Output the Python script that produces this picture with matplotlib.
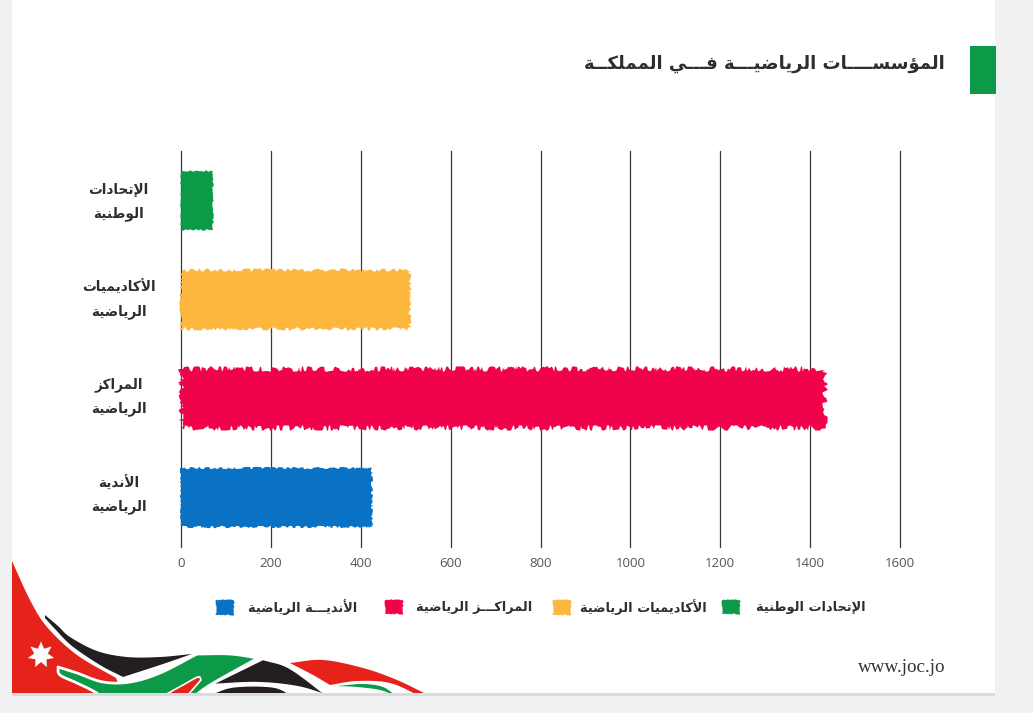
import numpy as np
import matplotlib
matplotlib.use("Agg")
import matplotlib.pyplot as plt
from matplotlib.patches import Rectangle, Polygon
from matplotlib.transforms import ScaledTranslation

# ---- data ----
categories = ["الإتحادات\nالوطنية", "الأكاديميات\nالرياضية", "المراكز\nالرياضية", "الأندية\nالرياضية"]
legend_labels = ["الإتحادات الوطنية", "الأكاديميات الرياضية", "المراكـــز الرياضية", "الأنديـــة الرياضية"]
values = [71, 510, 1432, 425]
colors = ["#0d9a48", "#fdb73e", "#f0034b", "#0a72c4"]
xticks = [0, 200, 400, 600, 800, 1000, 1200, 1400, 1600]
title = "المؤسســــات الرياضيـــة فـــي المملكــة"
site = "www.joc.jo"

# ---- Arabic shaping (matplotlib has no bidi / joining) ----
_two = "آأؤإادذرزوى"
_forms = {}
_code = 0xFE81
for ch in "آأؤإئابةتثجحخدذرزسشصضطظعغفقكلمنهوىي":
    n = 2 if (ch == "ة" or ch in _two) else 4
    _forms[ch] = [chr(_code + i) for i in range(n)]
    _code += n
_forms["ء"] = [chr(0xFE80)] * 2
_lamalef = {"آ": (0xFEF5, 0xFEF6), "أ": (0xFEF7, 0xFEF8), "إ": (0xFEF9, 0xFEFA), "ا": (0xFEFB, 0xFEFC)}
_nonjoin_next = set("آأؤإادذرزوىةء")


def shape(text):
    out = []
    for line in text.split("\n"):
        chars = list(line)
        res = []
        i = 0

        def joins_fwd(c):
            return c == "ـ" or (c in _forms and c not in _nonjoin_next)

        def is_ar(c):
            return c == "ـ" or c in _forms

        while i < len(chars):
            c = chars[i]
            prev = chars[i - 1] if i > 0 else " "
            nxt = chars[i + 1] if i + 1 < len(chars) else " "
            jp = joins_fwd(prev)
            if c == "ل" and nxt in _lamalef:
                res.append(chr(_lamalef[nxt][1 if jp else 0]))
                i += 2
                continue
            if c == "ـ" or c not in _forms:
                res.append(c)
                i += 1
                continue
            f = _forms[c]
            jn = is_ar(nxt) and joins_fwd(c)
            if len(f) == 2:
                res.append(f[1] if jp else f[0])
            else:
                res.append(f[3] if jp and jn else f[1] if jp else f[2] if jn else f[0])
            i += 1
        out.append("".join(reversed(res)))
    return "\n".join(out)


W, H = 1033, 713
fig = plt.figure(figsize=(W / 100, H / 100), dpi=100, facecolor="#eff1f3")

# ---- page layer in pixel coordinates ----
bg = fig.add_axes([0, 0, 1, 1], zorder=0)
bg.set_xlim(0, W)
bg.set_ylim(H, 0)
bg.axis("off")
bg.add_patch(Rectangle((12, 693), 983, 3, fc="#d9dbdd", ec="none"))
bg.add_patch(Rectangle((12, 0), 983, 693, fc="white", ec="none"))
bg.add_patch(Rectangle((970, 46), 26, 48, fc="#0d9a48", ec="none"))


def curve(pts, n=16):
    p = np.array(pts, float)
    if len(p) == 2:
        return p
    q = np.vstack([2 * p[0] - p[1], p, 2 * p[-1] - p[-2]])
    out = []
    for i in range(1, len(q) - 2):
        for t in np.linspace(0, 1, n, endpoint=False):
            out.append(0.5 * ((2 * q[i]) + (-q[i - 1] + q[i + 1]) * t
                              + (2 * q[i - 1] - 5 * q[i] + 4 * q[i + 1] - q[i + 2]) * t ** 2
                              + (-q[i - 1] + 3 * q[i] - 3 * q[i + 1] + q[i + 2]) * t ** 3))
    out.append(p[-1])
    return np.array(out)


card_clip = Rectangle((12, 0), 983, 693, transform=bg.transData)


def deco(curves, color, edge="white", lw=1.6):
    xy = np.vstack([curve(c) for c in curves])
    poly = Polygon(xy, closed=True, fc=color, ec=edge, lw=lw, joinstyle="round")
    bg.add_patch(poly)
    poly.set_clip_path(card_clip)


RED, BLACK, GREEN = "#e5231b", "#231f20", "#0d9a48"
deco([[(12, 561), (30, 600), (47, 627), (77, 655), (116, 678)],
      [(116, 678), (125, 700)], [(125, 700), (12, 700)]], RED, edge="none", lw=0)
deco([[(45, 615), (58, 626), (70, 637), (97, 651), (127, 657), (160, 657), (192, 654)],
      [(192, 654), (160, 665), (123, 677)],
      [(123, 677), (100, 665), (72, 646), (55, 629), (45, 618)]], BLACK, edge="none", lw=0)
deco([[(58, 667), (77, 673), (103, 682), (130, 682), (160, 673), (197, 654)],
      [(197, 654), (230, 654), (258, 658)],
      [(258, 658), (210, 685), (190, 700)],
      [(190, 700), (105, 700)],
      [(105, 700), (95, 692), (77, 683), (60, 675), (58, 667)]], GREEN, lw=2.0)
deco([[(163, 696), (183, 685), (198, 677), (201, 680)],
      [(201, 680), (187, 696)]], RED, lw=1.2)
deco([[(210, 685), (263, 659)],
      [(263, 659), (290, 668), (328, 696)],
      [(328, 696), (297, 687), (257, 683), (210, 685)]], BLACK)
deco([[(207, 696), (233, 687), (273, 687), (293, 696)]], BLACK, lw=1.0)
deco([[(290, 663), (323, 660), (363, 668), (397, 680), (430, 696)],
      [(430, 696), (420, 696)],
      [(420, 696), (390, 683), (357, 681), (330, 685)],
      [(330, 685), (313, 675), (290, 663)]], RED, edge="none", lw=0)
deco([[(337, 686), (363, 684), (383, 687), (396, 696)],
      [(396, 696), (380, 690), (357, 687), (337, 686)]], GREEN, edge="none", lw=0)
ang = np.pi / 2 + np.arange(14) * np.pi / 7
rad = np.where(np.arange(14) % 2 == 0, 13.5, 7.0)
bg.add_patch(Polygon(np.c_[41 + rad * np.cos(ang), 655 - rad * np.sin(ang)], closed=True, fc="white", ec="none"))

bg.text(945, 64, shape(title), ha="right", va="center", fontsize=12.95, fontweight="bold",
        color="#2e2e2e", family="DejaVu Sans")
bg.text(945, 668, site, ha="right", va="center", fontsize=13.7, color="#333333", family="Liberation Serif")

# ---- chart ----
ax = fig.add_axes([181 / W, 1 - 547 / H, 719 / W, 396 / H], zorder=2)
ax.patch.set_alpha(0)
ypos = np.arange(len(categories))
bars = ax.barh(ypos, values, height=0.59, color=colors, lw=0, zorder=3, clip_on=False)
for b, s, l in zip(bars, [0.7, 1.5, 2.6, 1.1], [9, 10, 15, 10]):
    b.set_sketch_params(scale=s, length=l, randomness=32)
ax.set_xlim(0, 1600)
ax.set_ylim(3.5, -0.5)
ax.set_xticks(xticks)
ax.grid(axis="x", color="#3a3a3a", lw=0.9, zorder=1, clip_on=False)
ax.set_axisbelow(True)
for s in ax.spines.values():
    s.set_visible(False)
ax.tick_params(axis="x", length=0, pad=7, labelsize=9.5, labelcolor="#555555")
for t in ax.get_xticklabels():
    t.set_family("Open Sans")
ax.set_yticks(ypos)
ax.set_yticklabels([shape(c) for c in categories], ha="center", fontsize=9.8, fontweight="bold",
                   color="#2e2e2e", linespacing=1.8, family="DejaVu Sans")
ax.tick_params(axis="y", length=0, pad=45)
label_lift_px = [5, 6.5, 8, 9]
for t, lift in zip(ax.get_yticklabels(), label_lift_px):
    t.set_transform(t.get_transform() + ScaledTranslation(0, lift / 100, fig.dpi_scale_trans))

# one single-entry legend per item, right to left as in the page
legend_order = [3, 2, 1, 0]
legend_x = [216, 385, 553, 722]
legend_pad = [15, 14, 10, 16]
FS = 9.3
fs_px = FS * 100 / 72
for i, x0, pad in zip(legend_order, legend_x, legend_pad):
    leg = bg.legend([bars[i]], [shape(legend_labels[i])], loc="center left",
                    bbox_to_anchor=(x0, 607), bbox_transform=bg.transData,
                    frameon=False, borderpad=0, borderaxespad=0,
                    handlelength=17.5 / fs_px, handleheight=17.5 / fs_px, handletextpad=pad / fs_px,
                    prop={"family": "DejaVu Sans", "weight": "bold", "size": FS}, labelcolor="#2e2e2e")
    for h in leg.legend_handles:
        h.set_sketch_params(scale=0.5, length=5, randomness=32)
    bg.add_artist(leg)
bg.legend_ = None

fig.savefig("out.png", dpi=100, facecolor=fig.get_facecolor())
